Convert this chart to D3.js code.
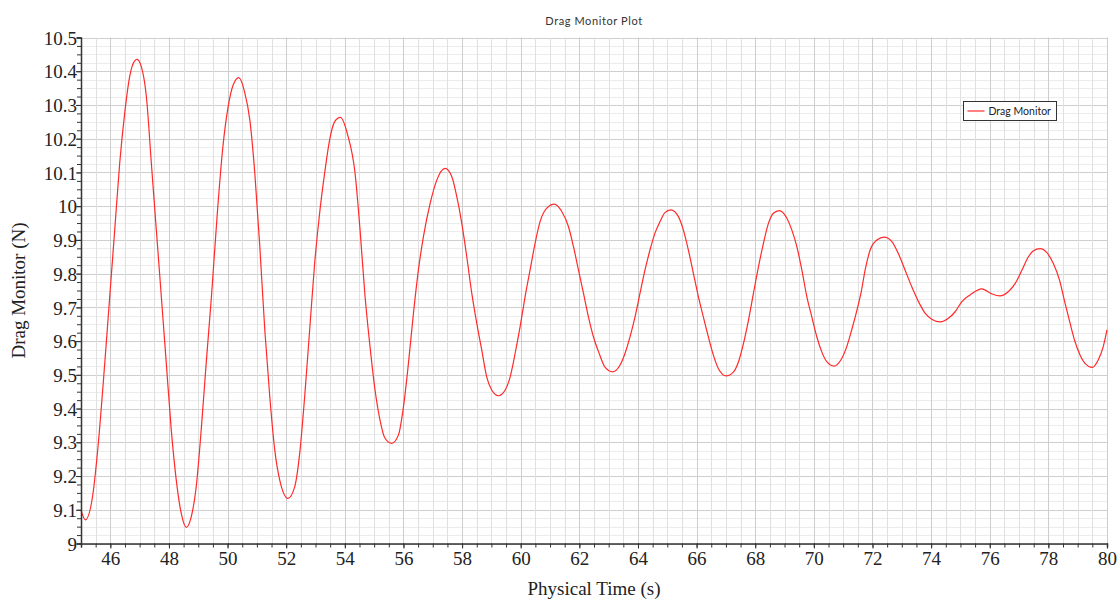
<!DOCTYPE html>
<html>
<head>
<meta charset="utf-8">
<script src="https://cdnjs.cloudflare.com/ajax/libs/d3/7.8.5/d3.min.js"></script>
<style>
  body { margin: 0; background: #fff; }
  .tick-label { font-family: "Liberation Serif", "DejaVu Serif", serif; font-size: 19px; fill: #222; }
</style>
</head>
<body>
<svg width="1119" height="599"></svg>
<script>
// physical time (s) and drag (N)
const time = [45.0, 45.15, 45.41, 45.58, 45.81, 45.98, 46.15, 46.32, 46.49, 46.66, 46.83, 46.91, 47.06, 47.23, 47.40, 47.57, 47.74, 47.91, 48.08, 48.25, 48.42, 48.59, 48.76, 48.93, 49.10, 49.27, 49.45, 49.65, 49.84, 50.02, 50.19, 50.38, 50.58, 50.76, 50.93, 51.10, 51.27, 51.44, 51.61, 51.78, 52.06, 52.29, 52.46, 52.63, 52.80, 52.97, 53.14, 53.31, 53.48, 53.65, 53.85, 54.10, 54.35, 54.52, 54.69, 54.86, 55.03, 55.20, 55.37, 55.60, 55.83, 56.00, 56.17, 56.34, 56.51, 56.68, 56.91, 57.14, 57.42, 57.65, 57.82, 57.99, 58.16, 58.33, 58.50, 58.67, 58.84, 59.01, 59.24, 59.47, 59.64, 59.81, 59.98, 60.15, 60.32, 60.49, 60.66, 60.89, 61.15, 61.40, 61.63, 61.80, 61.97, 62.14, 62.31, 62.48, 62.67, 62.88, 63.14, 63.39, 63.56, 63.73, 63.90, 64.07, 64.24, 64.41, 64.58, 64.75, 64.92, 65.12, 65.38, 65.55, 65.72, 65.89, 66.06, 66.23, 66.40, 66.57, 66.74, 67.01, 67.26, 67.43, 67.60, 67.77, 67.94, 68.11, 68.28, 68.45, 68.62, 68.82, 69.08, 69.25, 69.42, 69.59, 69.76, 69.93, 70.10, 70.27, 70.44, 70.69, 70.92, 71.12, 71.29, 71.47, 71.62, 71.75, 71.92, 72.15, 72.40, 72.66, 72.88, 73.11, 73.34, 73.57, 73.80, 74.02, 74.31, 74.59, 74.82, 75.05, 75.33, 75.73, 76.07, 76.35, 76.64, 76.87, 77.10, 77.32, 77.49, 77.72, 77.95, 78.17, 78.38, 78.57, 78.74, 78.91, 79.08, 79.25, 79.50, 79.70, 79.87, 80.0];
const drag = [9.099, 9.070, 9.149, 9.287, 9.534, 9.732, 9.929, 10.127, 10.275, 10.384, 10.431, 10.435, 10.413, 10.325, 10.127, 9.929, 9.732, 9.534, 9.336, 9.188, 9.089, 9.048, 9.079, 9.168, 9.336, 9.534, 9.732, 9.979, 10.176, 10.295, 10.359, 10.381, 10.339, 10.255, 10.097, 9.880, 9.633, 9.435, 9.277, 9.188, 9.134, 9.168, 9.267, 9.435, 9.633, 9.830, 9.979, 10.097, 10.196, 10.250, 10.263, 10.210, 10.097, 9.929, 9.732, 9.583, 9.455, 9.366, 9.312, 9.297, 9.322, 9.405, 9.534, 9.682, 9.811, 9.909, 10.008, 10.078, 10.112, 10.087, 10.028, 9.949, 9.850, 9.742, 9.653, 9.574, 9.494, 9.455, 9.438, 9.455, 9.494, 9.564, 9.643, 9.732, 9.811, 9.890, 9.954, 9.994, 10.006, 9.984, 9.939, 9.880, 9.811, 9.742, 9.672, 9.613, 9.565, 9.522, 9.509, 9.529, 9.564, 9.613, 9.672, 9.742, 9.811, 9.870, 9.920, 9.954, 9.981, 9.989, 9.969, 9.929, 9.870, 9.801, 9.732, 9.672, 9.613, 9.559, 9.519, 9.497, 9.509, 9.539, 9.593, 9.662, 9.742, 9.820, 9.890, 9.949, 9.979, 9.987, 9.964, 9.929, 9.880, 9.811, 9.732, 9.672, 9.613, 9.568, 9.539, 9.526, 9.544, 9.583, 9.633, 9.692, 9.748, 9.811, 9.870, 9.900, 9.908, 9.895, 9.860, 9.811, 9.761, 9.717, 9.682, 9.665, 9.657, 9.668, 9.687, 9.717, 9.737, 9.755, 9.740, 9.734, 9.747, 9.771, 9.811, 9.850, 9.868, 9.874, 9.862, 9.830, 9.781, 9.712, 9.653, 9.598, 9.559, 9.534, 9.522, 9.544, 9.583, 9.633];
const xTicks = [46, 48, 50, 52, 54, 56, 58, 60, 62, 64, 66, 68, 70, 72, 74, 76, 78, 80];
const yTicks = [9, 9.1, 9.2, 9.3, 9.4, 9.5, 9.6, 9.7, 9.8, 9.9, 10, 10.1, 10.2, 10.3, 10.4, 10.5];

const svg = d3.select('svg');
const width = +svg.attr('width');
const height = +svg.attr('height');
const margin = { top: 37.5, right: 12, bottom: 55.5, left: 81 };

const xScale = d3.scaleLinear()
    .domain([45, 80])
    .range([margin.left, width - margin.right]);

const yScale = d3.scaleLinear()
    .domain([9, 10.5])
    .range([height - margin.bottom, margin.top]);

const xMinor = d3.range(45, 80.001, 0.5);
const yMinor = d3.range(0, 61).map(i => 9 + i * 0.025);
const isMajorX = v => Math.abs(v / 2 - Math.round(v / 2)) < 1e-6;
const isMajorY = v => Math.abs(v * 10 - Math.round(v * 10)) < 1e-6;

// grid
const grid = svg.append('g');
grid.selectAll('.hgrid')
    .data(yMinor)
    .join('line')
        .attr('x1', margin.left)
        .attr('x2', width - margin.right)
        .attr('y1', d => Math.round(yScale(d)) + 0.5)
        .attr('y2', d => Math.round(yScale(d)) + 0.5)
        .attr('stroke', d => isMajorY(d) ? '#cfcfcf' : '#ececec');
grid.selectAll('.vgrid')
    .data(xMinor)
    .join('line')
        .attr('x1', d => Math.round(xScale(d)) + 0.5)
        .attr('x2', d => Math.round(xScale(d)) + 0.5)
        .attr('y1', margin.top)
        .attr('y2', height - margin.bottom)
        .attr('stroke', d => isMajorX(d) ? '#cdcdcd' : '#e0e0e0');

// data line
const line = d3.line()
    .x((d, i) => xScale(time[i]))
    .y(d => yScale(d))
    .curve(d3.curveMonotoneX);

svg.append('path')
    .datum(drag)
    .attr('fill', 'none')
    .attr('stroke', '#ff2a2a')
    .attr('stroke-width', 1.2)
    .attr('d', line);

// axes
const xAxis = g => g
    .attr('transform', `translate(0,${height - margin.bottom})`)
    .call(d3.axisBottom(xScale).tickValues(xMinor).tickSize(4).tickFormat(''))
    .call(g => g.append('g')
        .call(d3.axisBottom(xScale).tickValues(xTicks).tickSize(5).tickFormat(d3.format('d')))
        .call(g => g.select('.domain').remove())
        .call(g => g.selectAll('text').attr('class', 'tick-label').attr('dy', '0.72em').attr('y', 8)))
    .call(g => g.selectAll('.domain').attr('stroke', '#333').attr('stroke-width', 1.5))
    .call(g => g.selectAll('.tick line').attr('stroke', '#333'));

const yAxis = g => g
    .attr('transform', `translate(${margin.left},0)`)
    .call(d3.axisLeft(yScale).tickValues(yMinor).tickSize(4).tickFormat(''))
    .call(g => g.append('g')
        .call(d3.axisLeft(yScale).tickValues(yTicks).tickSize(5).tickFormat(d => d3.format('')(+d.toFixed(1))))
        .call(g => g.select('.domain').remove())
        .call(g => g.selectAll('text').attr('class', 'tick-label').attr('x', -4).attr('dy', '0.35em')))
    .call(g => g.selectAll('.domain').attr('stroke', '#333').attr('stroke-width', 1.5))
    .call(g => g.selectAll('.tick line').attr('stroke', '#333'));

svg.append('g').call(xAxis);
svg.append('g').call(yAxis);

// titles
svg.append('text')
    .attr('x', (margin.left + width - margin.right) / 2)
    .attr('y', 25)
    .attr('text-anchor', 'middle')
    .attr('font-family', 'Lato, "Open Sans", sans-serif')
    .attr('font-size', 11)
    .attr('letter-spacing', 0.6)
    .attr('fill', '#333')
    .text('Drag Monitor Plot');

svg.append('text')
    .attr('x', (margin.left + width - margin.right) / 2)
    .attr('y', 595)
    .attr('text-anchor', 'middle')
    .attr('class', 'tick-label')
    .text('Physical Time (s)');

svg.append('text')
    .attr('transform', `translate(25,${(margin.top + height - margin.bottom) / 2}) rotate(-90)`)
    .attr('text-anchor', 'middle')
    .attr('class', 'tick-label')
    .text('Drag Monitor (N)');

// legend
const legend = svg.append('g').attr('transform', 'translate(963.5,101.5)');
legend.append('rect')
    .attr('width', 93)
    .attr('height', 19)
    .attr('fill', '#fff')
    .attr('stroke', '#333');
legend.append('line')
    .attr('x1', 4).attr('x2', 21)
    .attr('y1', 9.5).attr('y2', 9.5)
    .attr('stroke', '#ff2a2a')
    .attr('stroke-width', 1.2);
legend.append('text')
    .attr('x', 25)
    .attr('y', 13.5)
    .attr('font-family', 'Lato, "Open Sans", sans-serif')
    .attr('font-size', 10.5)
    .attr('fill', '#222')
    .text('Drag Monitor');
</script>
</body>
</html>
